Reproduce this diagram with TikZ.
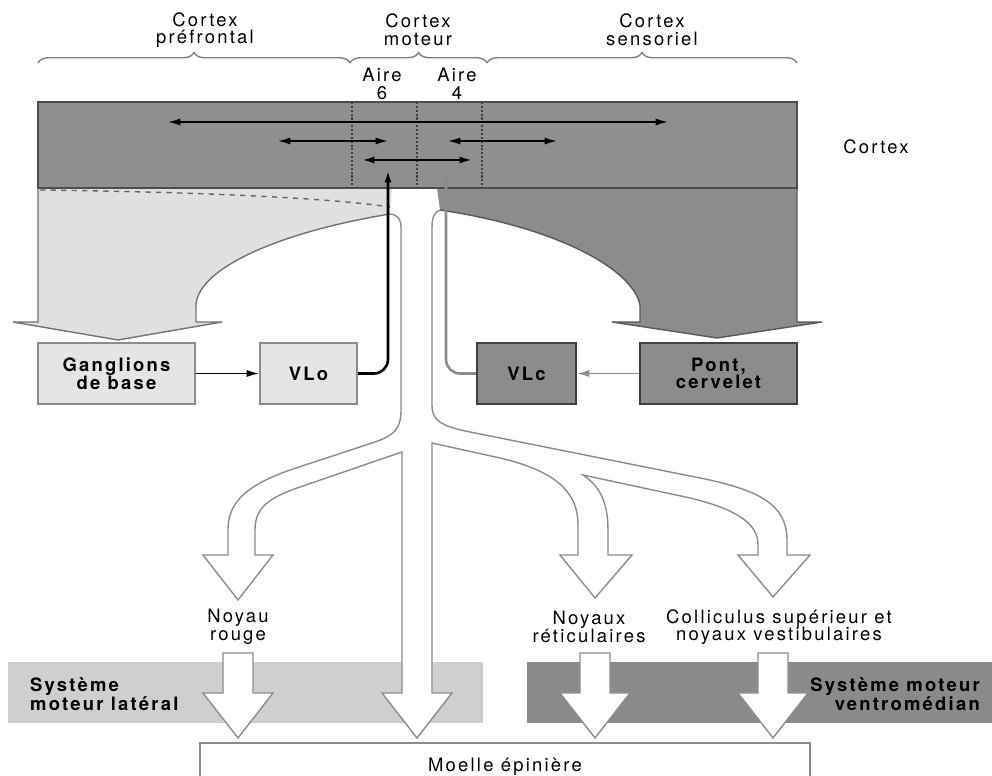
\documentclass[tikz,border=0pt]{standalone}
\usepackage{fontspec}
\setmainfont{TeX Gyre Heros}[LetterSpace=12]
\usetikzlibrary{arrows.meta,decorations.pathreplacing}
\definecolor{cortexgray}{gray}{0.56}
\definecolor{lightfill}{gray}{0.88}
\definecolor{boxlight}{gray}{0.9}
\definecolor{boxdark}{gray}{0.55}
\definecolor{bandlight}{gray}{0.81}
\definecolor{banddark}{gray}{0.54}
\tikzset{
	lightbox/.style={
			draw=black!45, fill=boxlight, line width=1.2pt,
			minimum height=1.22cm, align=center,
			font=\bfseries\fontsize{10.5}{10}\selectfont
		},
	darkbox/.style={lightbox, draw=black!75, fill=boxdark},
	outline/.style={fill=white, draw=black!45, line width=0.8pt},
	bracket/.style={black!50, line width=0.8pt, decorate,
			decoration={brace, amplitude=6pt}}
}
\begin{document}
\begin{tikzpicture}[x=0.02cm, y=-0.02cm, >={Latex[length=7pt,width=4pt]},
		font=\fontsize{10.5}{10}\selectfont]
	\useasboundingbox (0,0) rectangle (992,776);

	% Projections below the cortex
	\filldraw[fill=lightfill, draw=black!55, line width=0.8pt] (390,214) .. controls (280,232) and (198,268) .. (196,305) -- (196,322) -- (222,322) -- (118,340) -- (13,322) -- (38,322) -- (38,188) -- (392,188);
	\filldraw[fill=boxdark, draw=black!65, line width=0.8pt] (440,210) .. controls (560,228) and (633,270) .. (640,305) -- (640,322) -- (612,322) -- (717,338) -- (822,322) -- (797,322) -- (797,188) -- (437,188);
	\draw[black!60, dashed, line width=0.8pt] (40,190) .. controls (200,192) and (330,198) .. (390,207);

	% Cortex
	\filldraw[fill=cortexgray, draw=black!70, line width=1pt] (38,102) rectangle (797,188);
	\foreach \dx in {352,417,482}
	\draw[black!75, densely dotted, line width=1.2pt] (\dx,102) -- (\dx,188);
	\draw[<->, line width=0.9pt] (168,122) -- (668,122);
	\draw[<->, line width=0.9pt] (278,141) -- (388,141);
	\draw[<->, line width=0.9pt] (448,141) -- (557,141);
	\draw[<->, line width=1.2pt] (362,160) -- (472,160);

	% Motor systems
	\fill[bandlight] (8,662) rectangle (483,723);
	\fill[banddark] (527,662) rectangle (992,723);

	% Descending pathways
	\filldraw[outline] (390,214) .. controls (398,215) and (401,219) .. (401,228)
	-- (401,410) .. controls (401,428) and (395,435) .. (375,442)
	-- (290,470) .. controls (242,487) and (228,505) .. (228,530)
	-- (228,555) -- (203,555) -- (238,600) -- (273,555) -- (255,555)
	-- (255,530) .. controls (255,508) and (268,498) .. (300,487)
	-- (402,452) -- (402,693) -- (382,693) -- (417,738) -- (452,693) -- (432,693)
	-- (432,443) -- (500,458) .. controls (560,472) and (578,495) .. (578,525)
	-- (578,555) -- (560,555) -- (595,598) -- (632,555) -- (608,555)
	-- (608,530) .. controls (608,500) and (598,485) .. (583,475)
	-- (690,498) .. controls (740,510) and (758,525) .. (758,545)
	-- (758,555) -- (738,555) -- (773,597) -- (810,555) -- (787,555)
	-- (787,540) .. controls (787,505) and (760,490) .. (700,478)
	-- (470,432) .. controls (440,426) and (432,420) .. (432,405)
	-- (432,228) .. controls (432,216) and (435,212) .. (440,210);
	\foreach \cx in {238,595,773}
	\filldraw[outline] (\cx-15,653) -- (\cx+15,653) -- (\cx+15,693) -- (\cx+35,693) -- (\cx,738) -- (\cx-35,693) -- (\cx-15,693) -- cycle;
	\draw[black!45, line width=0.8pt] (200,776) -- (200,743) -- (810,743) -- (810,776);

	% Loops through the thalamus
	\node[lightbox, minimum width=3.14cm] (gang) at (116.5,373.5) {Ganglions\\de base};
	\node[lightbox, minimum width=1.94cm] (vlo) at (308.5,373.5) {VLo};
	\node[darkbox, minimum width=1.98cm] (vlc) at (526.5,373.5) {VLc};
	\node[darkbox, minimum width=3.14cm] (pont) at (718.5,373.5) {Pont,\\cervelet};
	\coordinate (in6) at (388,170);
	\coordinate (in4) at (446,170);
	\draw[->, line width=0.8pt] (gang) -- (vlo);
	\draw[->, line width=0.8pt, black!45] (pont) -- (vlc);
	\draw[->, line width=1.5pt, rounded corners=8pt] (vlo.east) -| (in6);
	\draw[->, line width=1.5pt, black!45, rounded corners=8pt] (vlc.west) -| (in4);

	% Labels
	\draw[bracket] (38,63) -- (350,63);
	\draw[bracket] (350,63) -- (487,63);
	\draw[bracket] (487,63) -- (797,63);
	\node[align=center] (pref) at (205,30) {Cortex\\préfrontal};
	\node[align=center] (mot) at (418,30) {Cortex\\moteur};
	\node[align=center] (sens) at (652,30) {Cortex\\sensoriel};
	\node[align=center] (a6) at (382,84) {Aire\\6};
	\node[align=center] (a4) at (457,84) {Aire\\4};
	\node (ctx) at (876,147) {Cortex};
	\node[align=center] (rouge) at (238,627) {Noyau\\rouge};
	\node[align=center] (retic) at (589,627) {Noyaux\\réticulaires};
	\node[align=center] (coll) at (779,627) {Colliculus supérieur et\\noyaux vestibulaires};
	\node[align=left, anchor=west, font=\bfseries\fontsize{10.5}{10}\selectfont] (lat) at (24,694) {Système\\moteur latéral};
	\node[align=right, anchor=east, font=\bfseries\fontsize{10.5}{10}\selectfont] (vm) at (986,694) {Système moteur\\ventromédian};
	\node (moelle) at (505,767) {Moelle épinière};
\end{tikzpicture}
\end{document}
